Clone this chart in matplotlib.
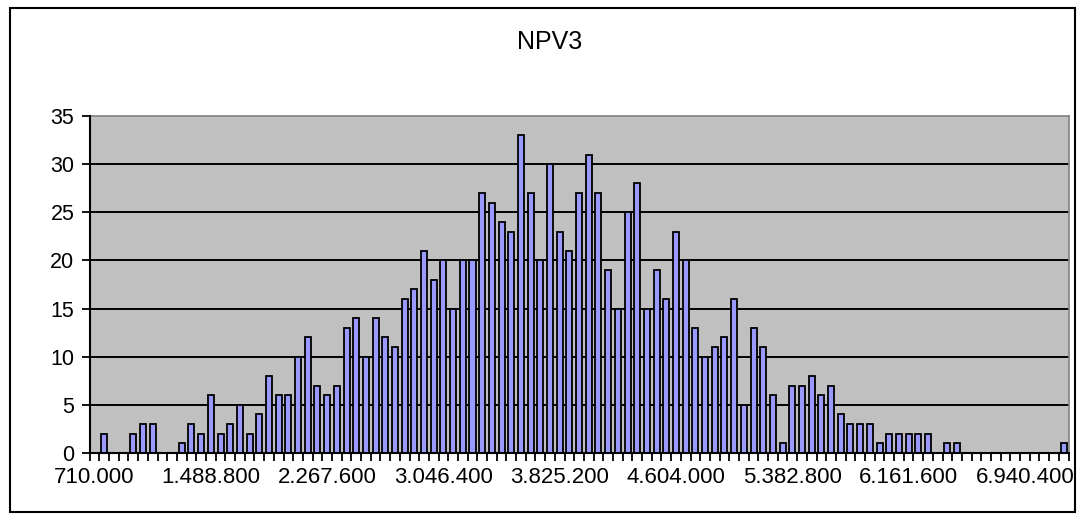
import matplotlib
matplotlib.use("Agg")
import matplotlib.pyplot as plt
from matplotlib.patches import Rectangle
from matplotlib.ticker import FixedLocator, NullFormatter

plt.rcParams['font.family'] = ['Liberation Sans', 'DejaVu Sans']

title = "NPV3"
counts = [0, 2, 0, 0, 2, 3, 3, 0, 0, 1,
          3, 2, 6, 2, 3, 5, 2, 4, 8, 6,
          6, 10, 12, 7, 6, 7, 13, 14, 10, 14,
          12, 11, 16, 17, 21, 18, 20, 15, 20, 20,
          27, 26, 24, 23, 33, 27, 20, 30, 23, 21,
          27, 31, 27, 19, 15, 25, 28, 15, 19, 16,
          23, 20, 13, 10, 11, 12, 16, 5, 13, 11,
          6, 1, 7, 7, 8, 6, 7, 4, 3, 3,
          3, 1, 2, 2, 2, 2, 2, 0, 1, 1,
          0, 0, 0, 0, 0, 0, 0, 0, 0, 0,
          1]
tick_labels = ["710.000", "1.488.800", "2.267.600", "3.046.400", "3.825.200",
               "4.604.000", "5.382.800", "6.161.600", "6.940.400"]
label_every = 12
y_ticks = [0, 5, 10, 15, 20, 25, 30, 35]

W, H = 1079, 517
fig = plt.figure(figsize=(W / 100, H / 100), dpi=100)
fig.patch.set_facecolor('white')

left, right, top, bottom = 89.7, 1068.5, 116, 453
ax = fig.add_axes([left / W, 1 - bottom / H, (right - left) / W, (bottom - top) / H])
ax.set_facecolor('#C0C0C0')

x = list(range(len(counts)))
ax.bar(x, counts, width=0.62, color='#9999FF', edgecolor='black', linewidth=1.3, zorder=3)

ax.set_xlim(-0.5, len(counts) - 0.5)
ax.set_ylim(0, 35)

# y axis
ax.set_yticks(y_ticks)
ax.set_yticklabels([str(v) for v in y_ticks])
ax.tick_params(axis='y', direction='out', length=6, width=1.3, color='black',
               labelsize=15.5, pad=5)
for v in y_ticks[1:-1]:
    ax.axhline(v, color='black', linewidth=1.4, zorder=1)

# x axis: labels every 12 categories, tick marks at each category boundary
major = [i * label_every for i in range(len(tick_labels))]
ax.set_xticks(major)
ax.set_xticklabels(tick_labels)
ax.tick_params(axis='x', which='major', length=0, labelsize=16, pad=10)
ax.xaxis.set_minor_locator(FixedLocator([i - 0.5 for i in range(len(counts) + 1)]))
ax.xaxis.set_minor_formatter(NullFormatter())
ax.tick_params(axis='x', which='minor', direction='out', length=6, width=1.3, color='black')

for s in ['left', 'bottom']:
    ax.spines[s].set_color('black')
    ax.spines[s].set_linewidth(1.5)
    ax.spines[s].set_zorder(4)
for s in ['top', 'right']:
    ax.spines[s].set_color('#808080')
    ax.spines[s].set_linewidth(1.2)

fig.text(550 / W, 1 - 42 / H, title, ha='center', va='center', fontsize=18)

# outer chart border
fig.patches.append(Rectangle((10 / W, 1 - 512 / H), (1075 - 10) / W, (512 - 8) / H,
                             transform=fig.transFigure, fill=False,
                             edgecolor='black', linewidth=1.5))

fig.savefig("out.png", dpi=100)
